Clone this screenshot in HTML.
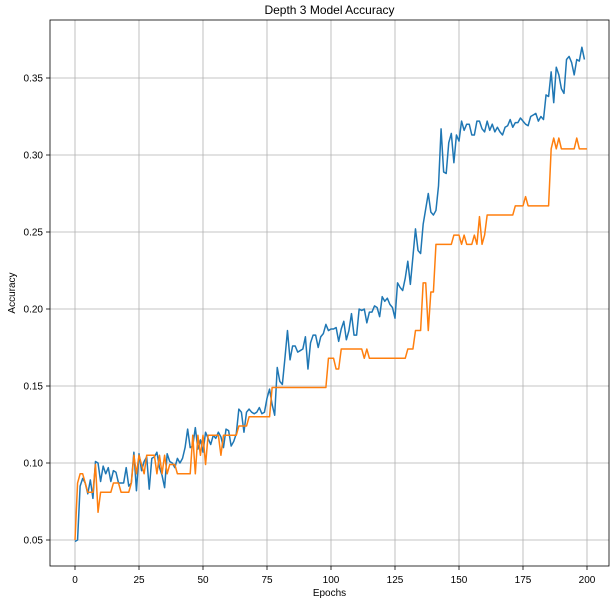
<!DOCTYPE html>
<html><head><meta charset="utf-8"><style>body{margin:0;background:#fff}svg{display:block;font-family:"Liberation Sans","DejaVu Sans",sans-serif}</style></head>
<body>
<svg id="chart" width="615" height="604" xmlns="http://www.w3.org/2000/svg"></svg>
<script>
const xTicks=[0,25,50,75,100,125,150,175,200];
const yTicks=[0.05,0.10,0.15,0.20,0.25,0.30,0.35];
const yTickLabels=["0.05","0.10","0.15","0.20","0.25","0.30","0.35"];
const trainAcc=[0.049,0.050,0.085,0.090,0.087,0.080,0.089,0.077,0.101,0.100,0.088,0.098,0.093,0.097,0.088,0.095,0.094,0.087,0.087,0.087,0.097,0.085,0.087,0.107,0.082,0.106,0.095,0.101,0.104,0.083,0.103,0.104,0.107,0.097,0.092,0.084,0.106,0.101,0.100,0.097,0.103,0.100,0.103,0.110,0.122,0.110,0.111,0.123,0.109,0.115,0.107,0.120,0.116,0.112,0.118,0.116,0.120,0.117,0.110,0.122,0.121,0.111,0.114,0.119,0.135,0.133,0.120,0.133,0.135,0.133,0.132,0.133,0.136,0.132,0.133,0.142,0.148,0.138,0.131,0.162,0.153,0.151,0.168,0.186,0.167,0.176,0.176,0.172,0.173,0.174,0.182,0.161,0.178,0.183,0.183,0.175,0.182,0.184,0.190,0.186,0.187,0.187,0.188,0.179,0.187,0.192,0.180,0.186,0.197,0.183,0.183,0.200,0.199,0.200,0.191,0.198,0.198,0.202,0.201,0.195,0.208,0.205,0.207,0.203,0.201,0.194,0.217,0.214,0.212,0.220,0.231,0.216,0.234,0.252,0.238,0.236,0.255,0.265,0.275,0.263,0.261,0.264,0.280,0.317,0.289,0.288,0.308,0.314,0.295,0.313,0.309,0.322,0.316,0.320,0.320,0.313,0.313,0.322,0.322,0.317,0.315,0.322,0.316,0.320,0.315,0.318,0.315,0.313,0.318,0.319,0.323,0.318,0.321,0.321,0.324,0.322,0.320,0.319,0.325,0.326,0.327,0.322,0.325,0.323,0.339,0.338,0.354,0.334,0.357,0.352,0.343,0.340,0.362,0.364,0.360,0.352,0.362,0.361,0.370,0.362];
const valAcc=[0.050,0.087,0.093,0.093,0.087,0.081,0.081,0.081,0.099,0.068,0.081,0.081,0.081,0.081,0.081,0.087,0.087,0.087,0.081,0.081,0.081,0.081,0.087,0.105,0.093,0.105,0.099,0.093,0.105,0.105,0.105,0.105,0.093,0.105,0.093,0.105,0.093,0.099,0.099,0.099,0.093,0.093,0.093,0.093,0.093,0.093,0.118,0.093,0.118,0.105,0.118,0.099,0.118,0.118,0.118,0.118,0.118,0.105,0.118,0.118,0.118,0.118,0.118,0.118,0.124,0.124,0.124,0.124,0.130,0.130,0.130,0.130,0.130,0.130,0.130,0.130,0.130,0.149,0.149,0.149,0.149,0.149,0.149,0.149,0.149,0.149,0.149,0.149,0.149,0.149,0.149,0.149,0.149,0.149,0.149,0.149,0.149,0.149,0.149,0.168,0.168,0.168,0.161,0.161,0.174,0.174,0.174,0.174,0.174,0.174,0.174,0.174,0.174,0.168,0.174,0.168,0.168,0.168,0.168,0.168,0.168,0.168,0.168,0.168,0.168,0.168,0.168,0.168,0.168,0.168,0.174,0.174,0.174,0.186,0.186,0.186,0.217,0.217,0.186,0.211,0.211,0.242,0.242,0.242,0.242,0.242,0.242,0.242,0.248,0.248,0.248,0.242,0.248,0.242,0.242,0.242,0.248,0.242,0.260,0.242,0.248,0.261,0.261,0.261,0.261,0.261,0.261,0.261,0.261,0.261,0.261,0.261,0.267,0.267,0.267,0.267,0.273,0.267,0.267,0.267,0.267,0.267,0.267,0.267,0.267,0.267,0.304,0.311,0.304,0.311,0.304,0.304,0.304,0.304,0.304,0.304,0.311,0.304,0.304,0.304,0.304];

const L=50,R=609,T=20,B=566;
const sx=v=>75+(v-0)*(587-75)/200;
const sy=v=>540-(v-0.05)*(540-78)/0.30;
const svg=document.getElementById('chart');
const NS='http://www.w3.org/2000/svg';
function mk(tag,attrs,parent){const e=document.createElementNS(NS,tag);for(const k in attrs)e.setAttribute(k,attrs[k]);(parent||svg).appendChild(e);return e;}

xTicks.forEach(t=>{const x=sx(t);
 const g=mk('line',{x1:x,x2:x,y1:T,y2:B,stroke:'#b0b0b0','stroke-width':0.8});
 
 
 mk('line',{x1:x,x2:x,y1:B,y2:B+4,stroke:'#000','stroke-width':0.8});
 const tx=mk('text',{x:x,y:B+17,'font-size':10,'text-anchor':'middle',fill:'#000'});tx.textContent=t;
 
 
});
yTicks.forEach((t,i)=>{const y=sy(t);
 const g=mk('line',{x1:L,x2:R,y1:y,y2:y,stroke:'#b0b0b0','stroke-width':0.8});
 
 
 mk('line',{x1:L-4,x2:L,y1:y,y2:y,stroke:'#000','stroke-width':0.8});
 const tx=mk('text',{x:L-7,y:y+3.5,'font-size':10,'text-anchor':'end',fill:'#000'});tx.textContent=yTickLabels[i];
 
 
});
function line(arr,color,name){const d=arr.map((v,i)=>(i?'L':'M')+sx(i).toFixed(2)+','+sy(v).toFixed(2)).join('');
 const p=mk('path',{d:d,fill:'none',stroke:color,'stroke-width':1.5,'stroke-linejoin':'round'});
 
 }
line(trainAcc,'#1f77b4','train-accuracy-line');
line(valAcc,'#ff7f0e','validation-accuracy-line');
const fr=mk('rect',{x:L,y:T,width:R-L,height:B-T,fill:'none',stroke:'#000','stroke-width':0.8});


const ti=mk('text',{x:(L+R)/2,y:T-6,'font-size':12,'text-anchor':'middle'});ti.textContent='Depth 3 Model Accuracy';


const xl=mk('text',{x:(L+R)/2,y:596,'font-size':10,'text-anchor':'middle'});xl.textContent='Epochs';


const yl=mk('text',{x:15,y:(T+B)/2,'font-size':10,'text-anchor':'middle',transform:'rotate(-90 15 '+(T+B)/2+')'});yl.textContent='Accuracy';


</script>
</body></html>
